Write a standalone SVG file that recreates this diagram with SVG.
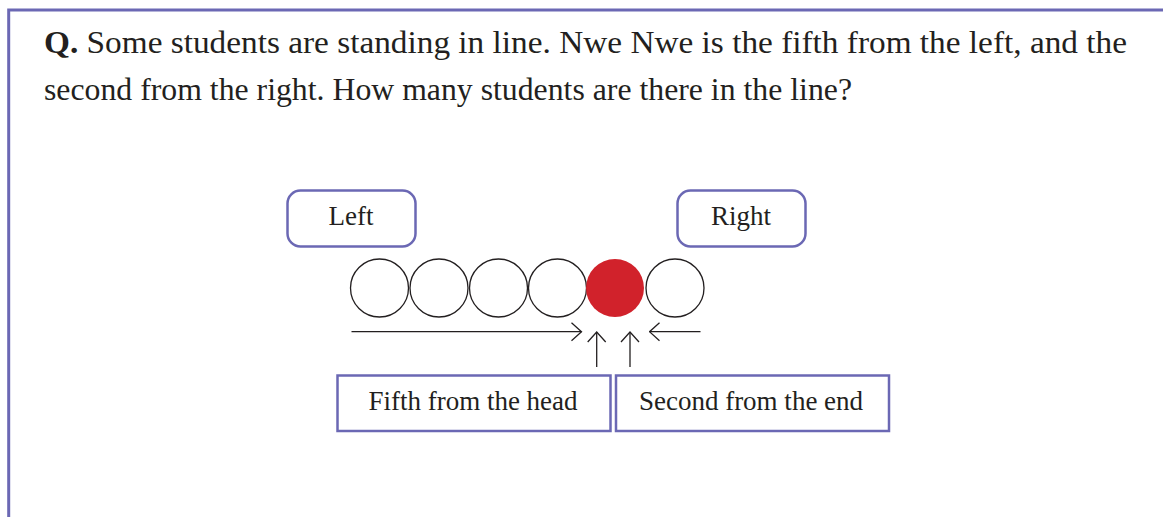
<svg xmlns="http://www.w3.org/2000/svg" width="1163" height="517" viewBox="0 0 1163 517">
<style>
.t{font-family:"Liberation Serif","Times New Roman",serif;fill:#231f20}
.q{font-size:31.7px}
.lbl{font-size:27px;text-anchor:middle}
.box{fill:#fff;stroke:#6b68b4;stroke-width:2.5}
.st{fill:#fff;stroke:#231f20;stroke-width:1.3}
.ar{fill:none;stroke:#231f20;stroke-width:1.3}
</style>
<defs>
<marker id="ah" viewBox="0 0 12 20" refX="11" refY="10" markerWidth="12" markerHeight="20" markerUnits="userSpaceOnUse" orient="auto">
<path d="M1 1 L11 10 L1 19" fill="none" stroke="#231f20" stroke-width="1.3"/>
</marker>
</defs>
<rect width="1163" height="517" fill="#fff"/>
<path d="M8.7 517 V10 H1163" fill="none" stroke="#6b68b4" stroke-width="3"/>
<g id="question">
<text class="t q" x="44" y="53" textLength="1083" lengthAdjust="spacingAndGlyphs"><tspan font-weight="bold">Q.</tspan> Some students are standing in line. Nwe Nwe is the fifth from the left, and the</text>
<text class="t q" x="44" y="100" textLength="808" lengthAdjust="spacingAndGlyphs">second from the right. How many students are there in the line?</text>
</g>
<g id="left-label">
<rect class="box" x="287.5" y="190.5" width="128" height="56" rx="13"/>
<text class="t lbl" x="351" y="225">Left</text>
</g>
<g id="right-label">
<rect class="box" x="677.5" y="190.5" width="128" height="56" rx="13"/>
<text class="t lbl" x="741" y="225">Right</text>
</g>
<g id="students">
<circle class="st" cx="379.5" cy="288" r="29"/>
<circle class="st" cx="439" cy="288" r="29"/>
<circle class="st" cx="498.5" cy="288" r="29"/>
<circle class="st" cx="557.5" cy="288" r="29"/>
<circle cx="615" cy="288" r="29" fill="#d1222b"/>
<circle class="st" cx="675" cy="288" r="29"/>
</g>
<g id="connectors">
<line class="ar" x1="351.5" y1="331.7" x2="581.5" y2="331.7" marker-end="url(#ah)"/>
<line class="ar" x1="700.5" y1="331.7" x2="649.5" y2="331.7" marker-end="url(#ah)"/>
<line class="ar" x1="596.7" y1="367" x2="596.7" y2="332" marker-end="url(#ah)"/>
<line class="ar" x1="630" y1="367" x2="630" y2="332" marker-end="url(#ah)"/>
</g>
<g id="fifth-box">
<rect class="box" x="337.5" y="375.5" width="273" height="55.5"/>
<text class="t lbl" x="473" y="410">Fifth from the head</text>
</g>
<g id="second-box">
<rect class="box" x="616" y="375.5" width="273" height="55.5"/>
<text class="t lbl" x="751" y="410">Second from the end</text>
</g>
</svg>
